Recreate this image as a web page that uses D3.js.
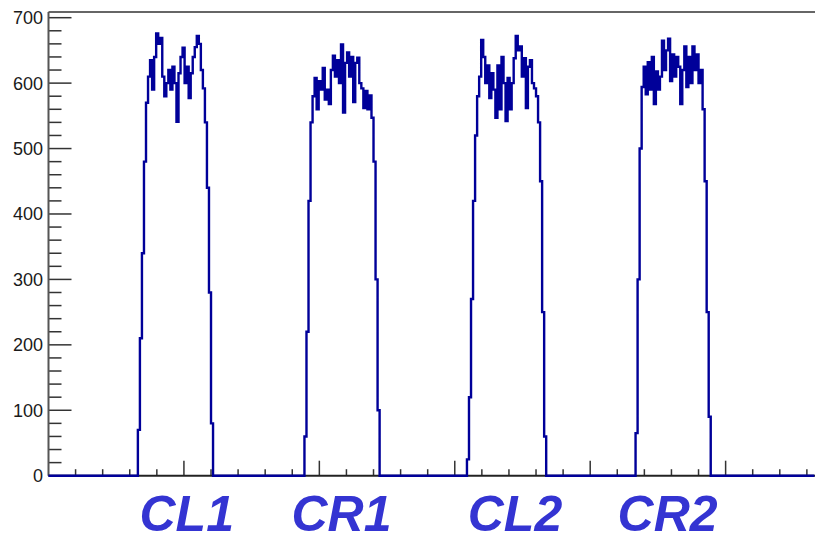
<!DOCTYPE html>
<html>
<head>
<meta charset="utf-8">
<script src="https://cdn.jsdelivr.net/npm/d3@7"></script>
<style>
  html, body { margin: 0; padding: 0; background: #fff; }
  svg { display: block; }
</style>
</head>
<body>
<svg id="hist-svg" width="815" height="536"></svg>
<script>
// histogram: channel axis 0..283, one bin = 0.75 channel
var channelMax = 283;
var binWidth = 0.75;
var yMax = 708.7;

// peak labels and where they sit (channel of label start)
var peakNames = ['CL1', 'CR1', 'CL2', 'CR2'];
var labelChannels = [33.6, 89.7, 154.8, 210.1];

// first bin index of each peak, counts
var peakStartBins = [44, 126, 206, 289];
var cl1Counts = [70, 210, 340, 480, 570, 610, 635, 590, 640, 676, 660, 669, 610, 580, 600, 620, 590, 625, 600,
    541, 615, 640, 654, 600, 625, 577, 615, 640, 655, 672, 660, 620, 592, 540, 440, 280, 80];
var cr1Counts = [60, 220, 420, 540, 580, 608, 560, 603, 590, 623, 575, 590, 568, 620, 642, 610, 635, 600, 659,
    555, 631, 647, 610, 640, 571, 631, 639, 600, 592, 562, 588, 560, 581, 547, 480, 300, 100];
var cl2Counts = [25, 120, 270, 420, 520, 580, 610, 666, 640, 600, 627, 577, 615, 590, 547, 627, 560, 640, 600,
    542, 608, 560, 600, 638, 672, 650, 656, 610, 638, 562, 625, 635, 600, 592, 580, 540, 450, 250, 60];
var cr2Counts = [65, 300, 500, 594, 625, 583, 632, 590, 640, 568, 618, 590, 610, 665, 620, 650, 668, 603, 644,
    610, 640, 625, 568, 620, 656, 594, 640, 600, 656, 620, 644, 600, 620, 560, 450, 250, 90];

var yTicks = [0, 100, 200, 300, 400, 500, 600, 700];

function drawHist() {
    var svg = d3.select('#hist-svg');
    svg.selectAll('*').remove();

    var left = 48.5, right = 815, top = 12, bottom = 475.7;
    var x = d3.scaleLinear().domain([0, channelMax]).range([left, right]);
    var y = d3.scaleLinear().domain([0, yMax]).range([bottom, top]);

    // full bin table, zeros outside the peaks
    var nBins = Math.floor(channelMax / binWidth);
    var counts = [];
    for (var i = 0; i < nBins; i++) counts.push(0);
    var peaks = [cl1Counts, cr1Counts, cl2Counts, cr2Counts];
    for (var p = 0; p < peaks.length; p++) {
        for (var j = 0; j < peaks[p].length; j++) {
            counts[peakStartBins[p] + j] = peaks[p][j];
        }
    }

    var tickCol = '#333';

    // left axis: major every 100, minor every 20, drawn inwards
    for (var v = 0; v <= yMax; v += 20) {
        var major = (v % 100 == 0);
        svg.append('line')
            .attr('x1', left).attr('x2', left + (major ? 23 : 13))
            .attr('y1', y(v)).attr('y2', y(v))
            .attr('stroke', tickCol)
            .attr('stroke-width', 1.5);
    }
    svg.selectAll('.ylab')
        .data(yTicks)
        .enter().append('text')
        .attr('class', 'ylab')
        .attr('x', 43)
        .attr('y', function (d) { return y(d); })
        .attr('dy', '0.36em')
        .attr('text-anchor', 'end')
        .attr('font-family', 'Liberation Sans, Arial, sans-serif')
        .attr('font-size', '18px')
        .attr('fill', '#1a1a1a')
        .text(function (d) { return d; });

    // bottom axis ticks: minor every 10 channels, major every 50
    for (var c = 10; c <= channelMax; c += 10) {
        var maj = (c % 50 == 0);
        svg.append('line')
            .attr('x1', x(c)).attr('x2', x(c))
            .attr('y1', bottom).attr('y2', bottom - (maj ? 15 : 6.5))
            .attr('stroke', tickCol)
            .attr('stroke-width', 1.5);
    }

    // frame lines
    svg.append('line')
        .attr('x1', left).attr('x2', right)
        .attr('y1', top).attr('y2', top)
        .attr('stroke', '#666').attr('stroke-width', 2);
    svg.append('line')
        .attr('x1', left).attr('x2', left)
        .attr('y1', top).attr('y2', bottom)
        .attr('stroke', '#555').attr('stroke-width', 2);
    svg.append('line')
        .attr('x1', left).attr('x2', right)
        .attr('y1', bottom).attr('y2', bottom)
        .attr('stroke', '#222').attr('stroke-width', 2);

    // histogram as a step outline
    var pts = [];
    for (var k = 0; k < counts.length; k++) {
        pts.push([k * binWidth, counts[k]]);
        pts.push([(k + 1) * binWidth, counts[k]]);
    }
    var line = d3.line()
        .x(function (d) { return x(d[0]); })
        .y(function (d) { return y(d[1]); });
    svg.append('path')
        .datum(pts)
        .attr('d', line)
        .attr('fill', 'none')
        .attr('stroke', '#000099')
        .attr('stroke-width', 2.4)
        .attr('stroke-linejoin', 'miter');

    // peak names under the axis
    svg.selectAll('.peaklab')
        .data(peakNames)
        .enter().append('text')
        .attr('class', 'peaklab')
        .attr('x', function (d, i) { return x(labelChannels[i]); })
        .attr('y', 531)
        .attr('font-family', 'Liberation Sans, Arial, sans-serif')
        .attr('font-weight', 'bold')
        .attr('font-style', 'italic')
        .attr('font-size', '50px')
        .attr('fill', '#3434d2')
        .text(function (d) { return d; });
}

window.onload = drawHist;
</script>
</body>
</html>
